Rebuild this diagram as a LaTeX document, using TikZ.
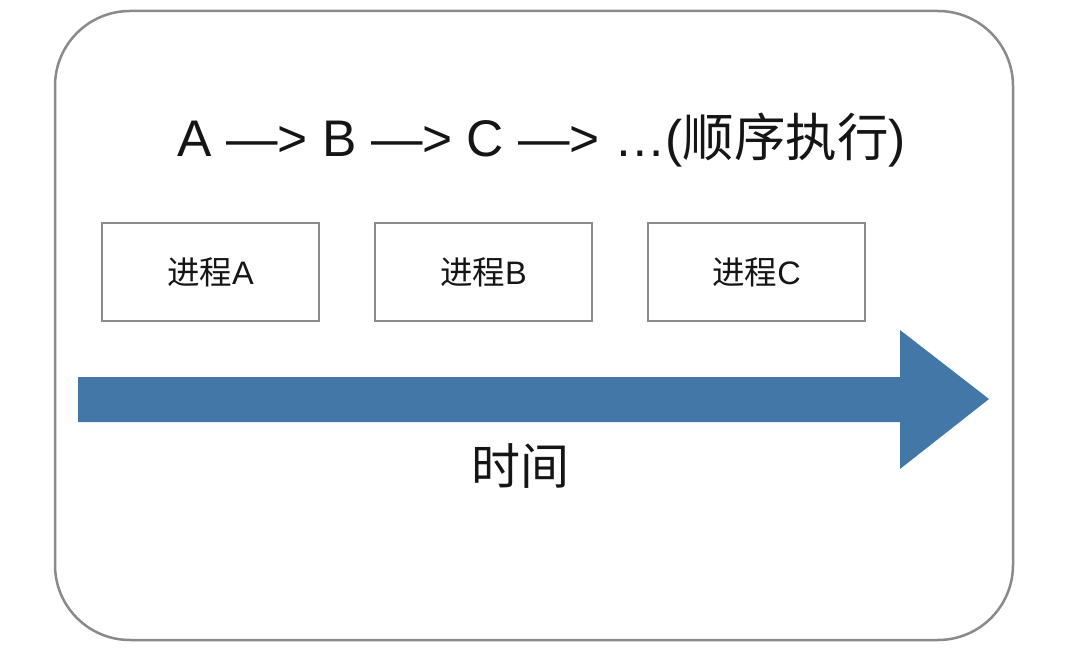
\documentclass[tikz,border=0pt]{standalone}
\usepackage{fontspec}
\setmainfont{Liberation Sans}
\newfontfamily\cjk{Noto Sans CJK SC}
\definecolor{framegray}{HTML}{8A8A8A}
\definecolor{boxgray}{HTML}{8C8C8C}
\definecolor{arrowblue}{HTML}{4377A8}
\definecolor{txt}{HTML}{151515}
\begin{document}
\begin{tikzpicture}[x=1pt,y=-1pt,
  frame/.style={draw=framegray,line width=2.5pt,rounded corners=75pt},
  procbox/.style={draw=boxgray,line width=2.5pt,minimum width=217pt,minimum height=98pt,inner sep=0pt,
    font=\fontsize{32.5}{32.5}\selectfont,text=txt},
  title/.style={font=\fontsize{51.5}{51.5}\selectfont,text=txt,inner sep=0pt},
  timelabel/.style={font=\cjk\fontsize{49}{49}\selectfont,text=txt,inner sep=0pt}]
\useasboundingbox[fill=white] (0,0) rectangle (1085,650);
\draw[frame] (55,11) rectangle (1013,640);
% time arrow
\fill[arrowblue] (78,377) -- (900,377) -- (900,330) -- (989,399) -- (900,469) -- (900,422) -- (78,422) -- cycle;
\node[title,anchor=base] (title) at (542,157) {A —> B —> C —> …({\cjk 顺序执行})};
\node[procbox] (pa) at (210.5,272) {{\cjk 进程}A};
\node[procbox] (pb) at (483.5,272) {{\cjk 进程}B};
\node[procbox] (pc) at (756.5,272) {{\cjk 进程}C};
\node[timelabel] (time) at (520,466) {时间};
\end{tikzpicture}
\end{document}
